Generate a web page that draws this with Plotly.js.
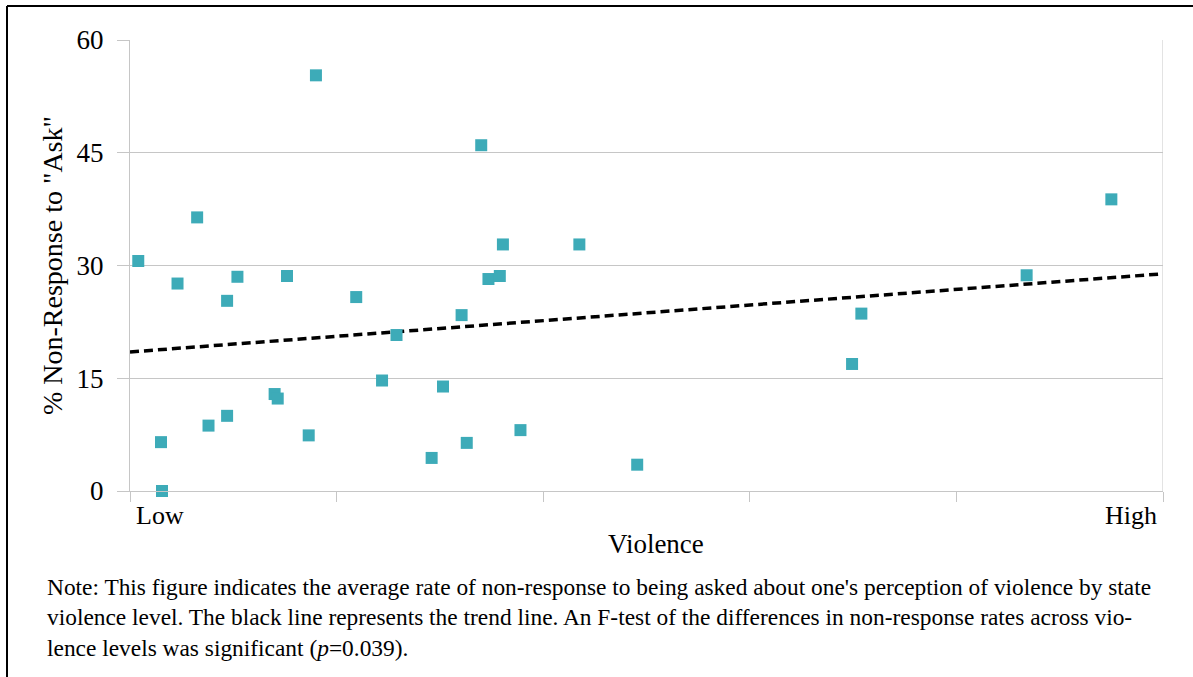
<!DOCTYPE html>
<html>
<head>
<meta charset="utf-8">
<script src="https://cdn.plot.ly/plotly-3.0.1.min.js"></script>
<style>
  html, body { margin: 0; padding: 0; background: #fff; }
  #chart { width: 1193px; height: 677px; }
</style>
</head>
<body>
<div id="chart"></div>
<script>
// Violence level (0 = Low, 100 = High) and % non-response to "Ask"
const violence = [0.8, 3.0, 3.1, 4.6, 6.5, 7.6, 9.4, 9.4, 10.4, 14.0, 14.3, 15.2, 17.3, 18.0,
  21.9, 24.4, 25.8, 29.2, 30.3, 32.1, 32.6, 34.0, 34.7, 35.8, 36.1, 37.8, 43.5, 49.1,
  69.9, 70.8, 86.8, 95.0];
const nonResponse = [30.6, 6.5, 0.0, 27.6, 36.4, 8.7, 25.3, 10.0, 28.5, 12.9, 12.3, 28.6, 7.4, 55.3,
  25.8, 14.7, 20.75, 4.4, 13.9, 23.4, 6.4, 46.0, 28.2, 28.6, 32.8, 8.1, 32.8, 3.5,
  16.9, 23.6, 28.7, 38.8];
const trendX = [0, 100];
const trendY = [18.5, 28.9];
const xTickVals = [0, 20, 40, 60, 80, 100];
const yTickVals = [0, 15, 30, 45, 60];
const xEndLabels = ["Low", "High"];
const yTitle = '% Non-Response to "Ask"';
const xTitle = 'Violence';
const noteText = "Note: This figure indicates the average rate of non-response to being asked about one's perception of violence by state<br>" +
  "violence level. The black line represents the trend line. An F-test of the differences in non-response rates across vio-<br>" +
  "lence levels was significant (<i>p</i>=0.039).";

const serif = 'Liberation Serif, Times New Roman, serif';
const grid = '#C6C6C6';

// pixel helpers for paper coords (plot area: x 130..1163, y 40..491)
const L = 130, R = 1163, T = 40, B = 491;
const px = v => (v - L) / (R - L);
const py = v => (B - v) / (B - T);

const traces = [
  {
    x: trendX, y: trendY, type: 'scatter', mode: 'lines',
    line: { color: '#000', width: 3.5, dash: '9px,5px' },
    hoverinfo: 'skip', showlegend: false
  },
  {
    x: violence, y: nonResponse, type: 'scatter', mode: 'markers',
    marker: { symbol: 'square', size: 12, color: '#3DABB8', line: { width: 0 } },
    cliponaxis: false, showlegend: false
  }
];

const layout = {
  width: 1193, height: 677,
  margin: { l: L, r: 1193 - R, t: T, b: 677 - B, pad: 0 },
  paper_bgcolor: '#fff', plot_bgcolor: '#fff',
  font: { family: serif, color: '#000', size: 26 },
  showlegend: false,
  xaxis: {
    range: [0, 100], tickvals: xTickVals, showticklabels: false,
    ticks: 'outside', ticklen: 10, tickcolor: grid, tickwidth: 1,
    showgrid: false, zeroline: false, showline: true, linecolor: grid, linewidth: 1,
    fixedrange: true
  },
  yaxis: {
    range: [0, 60], tickvals: yTickVals,
    ticks: 'outside', ticklen: 12, tickcolor: grid, tickwidth: 1,
    tickfont: { family: serif, size: 27, color: '#000' },
    ticklabelstandoff: 8,
    showgrid: true, gridcolor: grid, gridwidth: 1,
    zeroline: false, showline: true, linecolor: grid, linewidth: 1,
    fixedrange: true
  },
  shapes: [
    { type: 'line', xref: 'x', yref: 'y', x0: 100, x1: 100, y0: 0, y1: 60, line: { color: grid, width: 1 } },
    // frame around figure
    { type: 'line', xref: 'paper', yref: 'paper', x0: px(7), x1: px(1200), y0: py(6), y1: py(6), line: { color: '#000', width: 2 } },
    { type: 'line', xref: 'paper', yref: 'paper', x0: px(7), x1: px(7), y0: py(6), y1: py(700), line: { color: '#000', width: 2 } }
  ],
  annotations: [
    { xref: 'paper', yref: 'paper', x: px(134), y: py(515), xanchor: 'left', yanchor: 'middle',
      text: xEndLabels[0], showarrow: false, font: { family: serif, size: 26, color: '#000' } },
    { xref: 'paper', yref: 'paper', x: px(1159), y: py(515), xanchor: 'right', yanchor: 'middle',
      text: xEndLabels[1], showarrow: false, font: { family: serif, size: 26, color: '#000' } },
    { xref: 'paper', yref: 'paper', x: px(656), y: py(544), xanchor: 'center', yanchor: 'middle',
      text: xTitle, showarrow: false, font: { family: serif, size: 27, color: '#000' } },
    { xref: 'paper', yref: 'paper', x: px(52), y: py(266), xanchor: 'center', yanchor: 'middle',
      text: yTitle, textangle: -90, showarrow: false, font: { family: serif, size: 28, color: '#000' } },
    { xref: 'paper', yref: 'paper', x: px(45), y: py(617), xanchor: 'left', yanchor: 'middle', align: 'left',
      text: noteText, showarrow: false, font: { family: serif, size: 23.4, color: '#000' } }
  ]
};

Plotly.newPlot('chart', traces, layout, { displayModeBar: false, staticPlot: true });
</script>
</body>
</html>
